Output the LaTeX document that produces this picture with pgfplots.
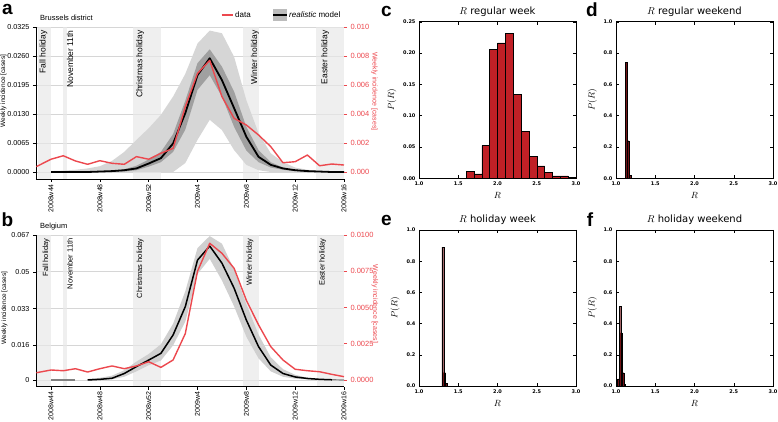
\documentclass[border=0pt]{standalone}
\usepackage{pgfplots}
\pgfplotsset{compat=1.18}
\usepackage{fontspec}
\setmainfont{Liberation Sans}
\newfontfamily\dejavu{DejaVu Sans}
\definecolor{datared}{RGB}{236,72,78}
\definecolor{bandout}{RGB}{214,214,214}
\definecolor{bandin}{RGB}{160,160,160}
\definecolor{bandb}{RGB}{208,208,208}
\definecolor{holi}{RGB}{232,232,232}
\definecolor{gridc}{RGB}{214,214,214}
\definecolor{barred}{RGB}{192,32,38}
\newcommand{\fs}[1]{\fontsize{#1}{#1}\selectfont}
\tikzset{hlab/.style={rotate=90, anchor=east, inner sep=0pt}}

\pgfplotsset{
  ts/.style={
    scale only axis, width=308pt,
    xmin=-1.23, xmax=24,
    axis x line*=bottom, axis y line*=left,
    xtick={0,4,8,12,16,20,24},
    xticklabels={2008w44,2008w48,2008w52,2009w4,2009w8,2009w12,2009w16},
    xticklabel style={rotate=90, anchor=east, font=\fs{7}, inner sep=2pt},
    yticklabel style={font=\fs{7.2}},
    tick align=outside, major tick length=3pt,
    tick style={black, line width=0.5pt},
    axis line style={line width=0.8pt},
    scaled y ticks=false,
    ymajorgrids, grid style={gridc, line width=0.6pt},
  },
  tsr/.style={
    scale only axis, width=308pt,
    xmin=-1.23, xmax=24,
    axis x line=none, axis y line*=right,
    y axis line style={draw=none},
    yticklabel style={font=\fs{7.5}, text=datared},
    tick style={datared, line width=0.5pt},
    tick align=outside, major tick length=3pt,
    scaled y ticks=false,
  },
  hist/.style={
    scale only axis, width=157pt, height=156.5pt,
    xmin=1, xmax=3, ymin=0,
    xtick={1,1.5,2,2.5,3}, xticklabels={1.0,1.5,2.0,2.5,3.0},
    tick align=inside, tick pos=both, major tick length=3pt,
    tick style={black, line width=0.4pt},
    ticklabel style={font=\dejavu\bfseries\fs{5}},
    axis line style={line width=0.8pt},
    title style={font=\dejavu\fs{10}, yshift=-4pt},
    xlabel={$R$}, ylabel={$P(R)$},
    label style={font=\fs{9.5}},
    scaled y ticks=false,
  },
  hold/.style={fill=holi, fill opacity=0.7, draw=none},
}

\begin{document}
\begin{tikzpicture}[x=1pt,y=1pt]
\path[use as bounding box] (0,0) rectangle (778,422);

% ================= panel a =================
\begin{axis}[ts, at={(36pt,243pt)}, anchor=south west, height=152pt,
  ymin=-0.001569, ymax=0.0325,
  ytick={0,0.0065,0.013,0.0195,0.026,0.0325},
  yticklabels={0.0000,0.0065,0.0130,0.0195,0.0260,0.0325}]
\addplot[hold] coordinates {(-1.07,-0.0015) (0,-0.0015) (0,0.0325) (-1.07,0.0325)} -- cycle;
\addplot[hold] coordinates {(1.0,-0.0015) (1.3,-0.0015) (1.3,0.0325) (1.0,0.0325)} -- cycle;
\addplot[hold] coordinates {(6.72,-0.0015) (9.0,-0.0015) (9.0,0.0325) (6.72,0.0325)} -- cycle;
\addplot[hold] coordinates {(15.7,-0.0015) (17.05,-0.0015) (17.05,0.0325) (15.7,0.0325)} -- cycle;
\addplot[hold] coordinates {(21.7,-0.0015) (24,-0.0015) (24,0.0325) (21.7,0.0325)} -- cycle;
% outer band
\addplot[fill=bandout, draw=none] coordinates {
(0,0.0002)(1,0.0003)(2,0.0005)(3,0.0008)(4,0.0013)(5,0.0025)(6,0.0045)(7,0.0072)(8,0.0098)(9,0.0128)(10,0.0169)(11,0.022)(12,0.0288)(13,0.0317)(14,0.0311)(15,0.0258)(16,0.0161)(17,0.0087)(18,0.0042)(19,0.0022)(20,0.001)(21,0.0005)(22,0.0002)(23,0.0001)(24,0.0001)
(24,0)(18,0)(17,0.0004)(16,0.0016)(15,0.0049)(14,0.0094)(13,0.0117)(12,0.0072)(11,0.002)(10,0)(0,0)} -- cycle;
% inner band
\addplot[fill=bandin, draw=none] coordinates {
(5,0.0002)(6,0.0006)(7,0.0014)(8,0.0028)(9,0.0045)(10,0.0085)(11,0.016)(12,0.0244)(13,0.0275)(14,0.0236)(15,0.018)(16,0.0101)(17,0.0049)(18,0.0022)(19,0.001)(20,0.0005)(21,0.0002)
(21,0.0001)(20,0.0002)(19,0.0005)(18,0.001)(17,0.0022)(16,0.0048)(15,0.0101)(14,0.0169)(13,0.0217)(12,0.0184)(11,0.0095)(10,0.0045)(9,0.0022)(8,0.0012)(7,0.0004)(6,0.0001)(5,0)} -- cycle;
% model median
\addplot[black, line width=1.8pt, line join=round] coordinates {
(0,0)(1,0)(2,0)(3,0)(4,0.0001)(5,0.0002)(6,0.0004)(7,0.0008)(8,0.0019)(9,0.0031)(10,0.0064)(11,0.0132)(12,0.0217)(13,0.0255)(14,0.0206)(15,0.0143)(16,0.0079)(17,0.0034)(18,0.0016)(19,0.0008)(20,0.0004)(21,0.0002)(22,0.0001)(23,0)(24,0)};
\node[hlab, font=\fs{8.5}] at (axis cs:-0.63,0.0318) {Fall holiday};
\node[hlab, font=\fs{8.5}] at (axis cs:1.56,0.0318) {November 11th};
\node[hlab, font=\fs{8.5}] at (axis cs:7.3,0.0318) {Christmas holiday};
\node[hlab, font=\fs{8.5}] at (axis cs:16.7,0.0318) {Winter holiday};
\node[hlab, font=\fs{8.5}] at (axis cs:22.46,0.0318) {Easter holiday};
\end{axis}
\begin{axis}[tsr, at={(36pt,243pt)}, anchor=south west, height=152pt,
  ymin=-0.000483, ymax=0.010,
  ytick={0,0.002,0.004,0.006,0.008,0.010},
  yticklabels={0.000,0.002,0.004,0.006,0.008,0.010}]
\addplot[datared, line width=1.4pt, line join=round] coordinates {
(-1.2,0.00037)(0,0.00088)(1,0.00112)(2,0.00076)(3,0.00053)(4,0.00078)(5,0.0006)(6,0.00053)(7,0.00106)(8,0.00088)(9,0.00129)(10,0.00163)(11,0.0045)(12,0.0068)(13,0.0077)(14,0.0052)(15,0.0037)(16,0.00324)(17,0.00255)(18,0.00175)(19,0.00064)(20,0.00071)(21,0.00117)(22,0.00043)(23,0.00055)(24,0.00048)};
\end{axis}

% ================= panel b =================
\begin{axis}[ts, at={(36pt,35.3pt)}, anchor=south west, height=151.7pt,
  ymin=-0.0031, ymax=0.067,
  ytick={0,0.016,0.033,0.05,0.067},
  yticklabels={0,0.016,0.033,0.05,0.067}]
\addplot[hold] coordinates {(-1.17,-0.003) (0,-0.003) (0,0.067) (-1.17,0.067)} -- cycle;
\addplot[hold] coordinates {(1.0,-0.003) (1.3,-0.003) (1.3,0.067) (1.0,0.067)} -- cycle;
\addplot[hold] coordinates {(6.7,-0.003) (9.0,-0.003) (9.0,0.067) (6.7,0.067)} -- cycle;
\addplot[hold] coordinates {(15.7,-0.003) (17.05,-0.003) (17.05,0.067) (15.7,0.067)} -- cycle;
\addplot[hold] coordinates {(21.8,-0.003) (24,-0.003) (24,0.067) (21.8,0.067)} -- cycle;
\addplot[fill=bandb, draw=none] coordinates {
(3,0.0005)(4,0.001)(5,0.002)(6,0.0045)(7,0.0085)(8,0.012)(9,0.0165)(10,0.026)(11,0.041)(12,0.061)(13,0.0665)(14,0.063)(15,0.051)(16,0.035)(17,0.021)(18,0.0105)(19,0.005)(20,0.0024)(21,0.001)(22,0.0005)
(22,0)(21,0.0003)(20,0.0006)(19,0.0015)(18,0.004)(17,0.010)(16,0.020)(15,0.034)(14,0.046)(13,0.056)(12,0.049)(11,0.027)(10,0.016)(9,0.009)(8,0.0068)(7,0.004)(6,0.0015)(5,0.0003)(4,0)(3,0)} -- cycle;
\addplot[gray, line width=1.2pt] coordinates {(0,0)(1,0)(2,0)};
\addplot[gray, line width=1.2pt] coordinates {(23,0.0001)(24,0)};
\addplot[black, line width=1.5pt, line join=round] coordinates {
(3,0)(4,0.0003)(5,0.0008)(6,0.003)(7,0.0062)(8,0.0092)(9,0.0123)(10,0.0208)(11,0.0339)(12,0.0554)(13,0.0619)(14,0.054)(15,0.0424)(16,0.0277)(17,0.0154)(18,0.0069)(19,0.003)(20,0.0014)(21,0.0007)(22,0.0003)(23,0.0001)};
\node[hlab, font=\fs{7.5}] at (axis cs:-0.4,0.0655) {Fall holiday};
\node[hlab, font=\fs{7.5}] at (axis cs:1.56,0.0655) {November 11th};
\node[hlab, font=\fs{7.5}] at (axis cs:7.3,0.0655) {Christmas holiday};
\node[hlab, font=\fs{7.5}] at (axis cs:16.3,0.0655) {Winter holiday};
\node[hlab, font=\fs{7.5}] at (axis cs:22.25,0.0655) {Easter holiday};
\end{axis}
\begin{axis}[tsr, at={(36pt,35.3pt)}, anchor=south west, height=151.7pt,
  ymin=-0.000462, ymax=0.010,
  ytick={0,0.0025,0.005,0.0075,0.01},
  yticklabels={0.0000,0.0025,0.0050,0.0075,0.0100}]
\addplot[datared, line width=1.4pt, line join=round] coordinates {
(-1.2,0.0005)(0,0.00069)(1,0.00064)(2,0.00078)(3,0.00055)(4,0.00078)(5,0.00097)(6,0.00078)(7,0.00097)(8,0.00126)(9,0.00087)(10,0.00138)(11,0.0032)(12,0.0075)(13,0.00943)(14,0.00874)(15,0.0077)(16,0.0055)(17,0.0038)(18,0.0023)(19,0.00138)(20,0.00074)(21,0.00064)(22,0.00057)(23,0.00039)(24,0.00023)};
\end{axis}

% ================= panels c-f =================
\begin{axis}[hist, at={(419pt,243.7pt)}, anchor=south west,
  title={$R$ regular week}, ymax=0.25,
  ytick={0,0.05,0.1,0.15,0.2,0.25},
  yticklabels={0.00,0.05,0.10,0.15,0.20,0.25}]
\addplot[ybar, bar width=0.1, bar shift=0pt, fill=barred, draw=black, line width=0.5pt] coordinates {
(1.65,0.0106)(1.75,0.007)(1.85,0.052)(1.95,0.206)(2.05,0.2165)(2.15,0.231)(2.25,0.134)(2.35,0.0755)(2.45,0.0346)(2.55,0.020)(2.65,0.009)(2.75,0.004)(2.85,0.004)(2.95,0.0015)};
\end{axis}
\begin{axis}[hist, at={(616pt,243.7pt)}, anchor=south west,
  title={$R$ regular weekend}, ymax=1,
  ytick={0,0.2,0.4,0.6,0.8,1}, yticklabels={0.0,0.2,0.4,0.6,0.8,1.0}]
\addplot[ybar, bar width=0.025, bar shift=0pt, fill=barred!60!black, draw=black, line width=0.4pt] coordinates {
(1.1275,0.74)(1.1525,0.24)(1.1775,0.02)};
\end{axis}
\begin{axis}[hist, at={(419pt,36pt)}, anchor=south west, height=156pt,
  title={$R$ holiday week}, ymax=1,
  ytick={0,0.2,0.4,0.6,0.8,1}, yticklabels={0.0,0.2,0.4,0.6,0.8,1.0}]
\addplot[ybar, bar width=0.025, bar shift=0pt, fill=barred!60!black, draw=black, line width=0.4pt] coordinates {
(1.3025,0.89)(1.3275,0.085)(1.3525,0.015)};
\end{axis}
\begin{axis}[hist, at={(616pt,36pt)}, anchor=south west, height=156pt,
  title={$R$ holiday weekend}, ymax=1,
  ytick={0,0.2,0.4,0.6,0.8,1}, yticklabels={0.0,0.2,0.4,0.6,0.8,1.0}]
\addplot[ybar, bar width=0.02, bar shift=0pt, fill=barred!60!black, draw=black, line width=0.4pt] coordinates {
(1.03,0.045)(1.05,0.51)(1.07,0.34)(1.09,0.085)(1.11,0.012)};
\end{axis}

% ================= annotations =================
\node[font=\bfseries\fs{19}] at (7.5,413) {a};
\node[font=\bfseries\fs{19}] at (7.5,202) {b};
\node[font=\bfseries\fs{19}] at (386.5,411) {c};
\node[font=\bfseries\fs{19}] at (592,412) {d};
\node[font=\bfseries\fs{19}] at (386.5,202) {e};
\node[font=\bfseries\fs{19}] at (590,202) {f};
\node[anchor=base west, font=\fs{7.5}, inner sep=0pt] at (40,401) {Brussels district};
\node[anchor=base west, font=\fs{7.5}, inner sep=0pt] at (40,193) {Belgium};
\node[rotate=90, font=\fs{6.5}] at (3.5,331) {Weekly incidence [cases]};
\node[rotate=-90, font=\fs{7}, text=datared] at (374.5,330.5) {Weekly incidence [cases]};
\node[rotate=90, font=\fs{6.5}] at (4.5,114) {Weekly incidence [cases]};
\node[rotate=-90, font=\fs{7}, text=datared] at (375,118) {Weekly incidence [cases]};
% legend
\draw[datared, line width=1.4pt] (221.7,407) -- (233.3,407);
\node[anchor=west, font=\fs{8}, inner sep=1pt] at (234,407) {data};
\fill[bandout!70!gray] (273,401.3) rectangle (287,412.7);
\draw[black, line width=1.6pt] (273,407) -- (287,407);
\node[anchor=west, font=\fs{8}, inner sep=1pt] at (288,407) {\textit{realistic} model};
\end{tikzpicture}
\end{document}
